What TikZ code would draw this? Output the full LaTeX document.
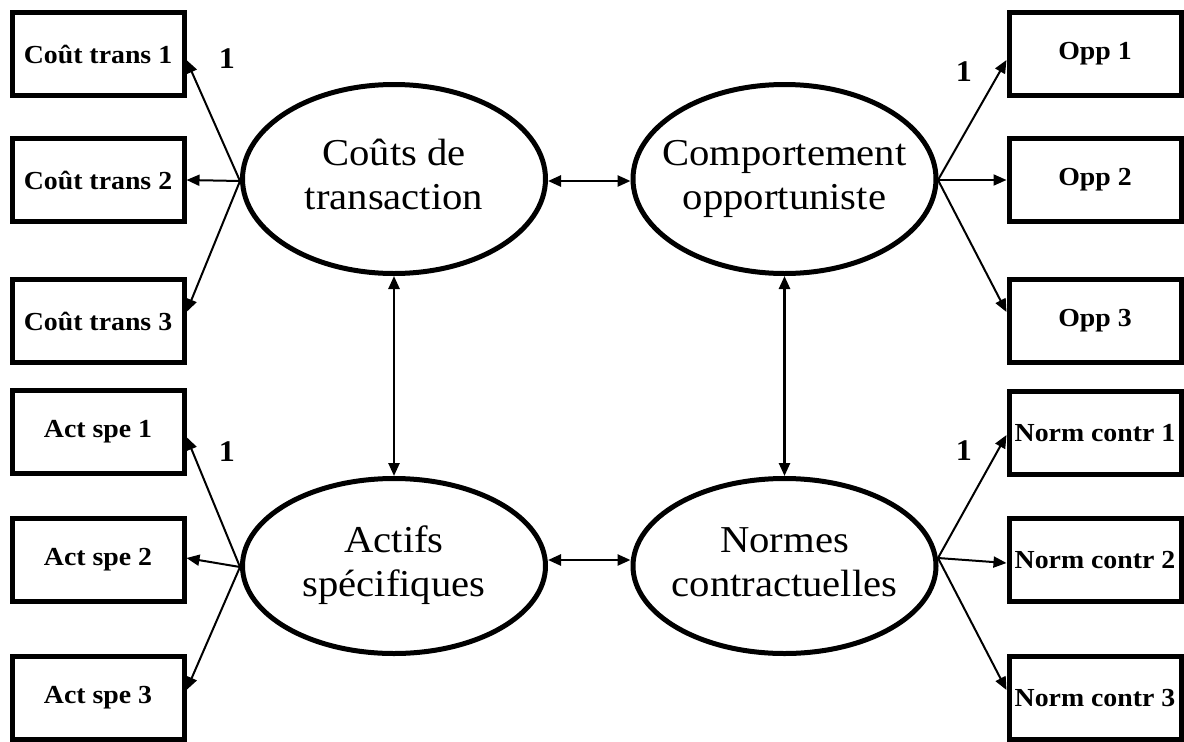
\documentclass[tikz,border=0pt]{standalone}
\usepackage{fontspec}
\setmainfont{Liberation Serif}
\usetikzlibrary{shapes.geometric,arrows.meta}
\newcommand\wideT[1]{\scalebox{1.07}[1]{#1}}
\newcommand\twoline[2]{\scalebox{1.07}[1]{\begin{tabular}{@{}c@{}}#1\\#2\end{tabular}}}
\tikzset{
  obsbox/.style={draw, line width=5pt, rectangle, minimum width=172pt, minimum height=83pt, inner sep=0pt,
    font=\bfseries\fontsize{26}{30}\selectfont},
  latent/.style={draw, line width=5pt, ellipse, inner sep=0pt, minimum width=303pt},
  lattop/.style={latent, minimum height=189pt},
  latbot/.style={latent, minimum height=175pt},
  lattext/.style={inner sep=0pt, font=\fontsize{38}{44}\selectfont},
  onelab/.style={inner sep=0pt, font=\bfseries\fontsize{30}{32}\selectfont},
  arr/.style={line width=2pt, -{Triangle[length=13pt,width=11pt]}},
  dbl/.style={line width=2.5pt, {Triangle[length=13pt,width=11pt]}-{Triangle[length=13pt,width=11pt]}}
}
\begin{document}
\begin{tikzpicture}[x=1pt,y=-1pt]
\useasboundingbox (0,0) rectangle (1184,742);
% observed boxes, left
\node[obsbox] (c1) at (98,54) {\wideT{Coût trans 1}};
\node[obsbox] (c2) at (98,180) {\wideT{Coût trans 2}};
\node[obsbox] (c3) at (98,321) {\wideT{Coût trans 3}};
\node[obsbox] (a1) at (98,432) {\wideT{Act spe 1}};
\node[obsbox] (a2) at (98,560) {\wideT{Act spe 2}};
\node[obsbox] (a3) at (98,698) {\wideT{Act spe 3}};
% observed boxes, right
\node[obsbox] (o1) at (1095,54) {\wideT{Opp 1}};
\node[obsbox] (o2) at (1095,180) {\wideT{Opp 2}};
\node[obsbox] (o3) at (1095,321) {\wideT{Opp 3}};
\node[obsbox] (n1) at (1095,433) {\wideT{Norm contr 1}};
\node[obsbox] (n2) at (1095,560) {\wideT{Norm contr 2}};
\node[obsbox] (n3) at (1095,698) {\wideT{Norm contr 3}};
% latent variables
\node[lattop] (TL) at (394,179) {};
\node[lattop] (TR) at (784.5,179) {};
\node[latbot] (BL) at (394,566) {};
\node[latbot] (BR) at (784.5,566) {};
\node[lattext] (TLt) at (TL.center) {\twoline{Coûts de}{transaction}};
\node[lattext] (TRt) at (TR.center) {\twoline{Comportement}{opportuniste}};
\node[lattext] (BLt) at (BL.center) {\twoline{Actifs}{spécifiques}};
\node[lattext] (BRt) at (BR.center) {\twoline{Normes}{contractuelles}};
% fan origins
\coordinate (tlsrc) at (240,181);
\coordinate (trsrc) at (938,180);
\coordinate (blsrc) at (240,567);
\coordinate (brsrc) at (938,558);
% loadings
\draw[arr] (tlsrc) -- ([yshift=-6pt]c1.east);
\draw[arr] (tlsrc) -- (c2.east);
\draw[arr] (tlsrc) -- ([yshift=9pt]c3.east);
\draw[arr] (blsrc) -- ([yshift=-5pt]a1.east);
\draw[arr] (blsrc) -- ([yshift=2pt]a2.east);
\draw[arr] (blsrc) -- ([yshift=8pt]a3.east);
\draw[arr] (trsrc) -- ([yshift=-6pt]o1.west);
\draw[arr] (trsrc) -- (o2.west);
\draw[arr] (trsrc) -- ([yshift=9pt]o3.west);
\draw[arr] (brsrc) -- ([yshift=-2pt]n1.west);
\draw[arr] (brsrc) -- ([yshift=-3pt]n2.west);
\draw[arr] (brsrc) -- ([yshift=8pt]n3.west);
% covariances
\draw[dbl] ([yshift=-2pt]TL.east) -- ([yshift=-2pt]TR.west);
\draw[dbl] ([yshift=6pt]BL.east) -- ([yshift=6pt]BR.west);
\draw[dbl] (TL.south) -- (BL.north);
\draw[dbl] (TR.south) -- (BR.north);
% fixed loadings
\node[onelab] (l1) at (227,59) {\wideT{1}};
\node[onelab] (l2) at (964,72) {\wideT{1}};
\node[onelab] (l3) at (227,452) {\wideT{1}};
\node[onelab] (l4) at (964,451) {\wideT{1}};
\end{tikzpicture}
\end{document}
